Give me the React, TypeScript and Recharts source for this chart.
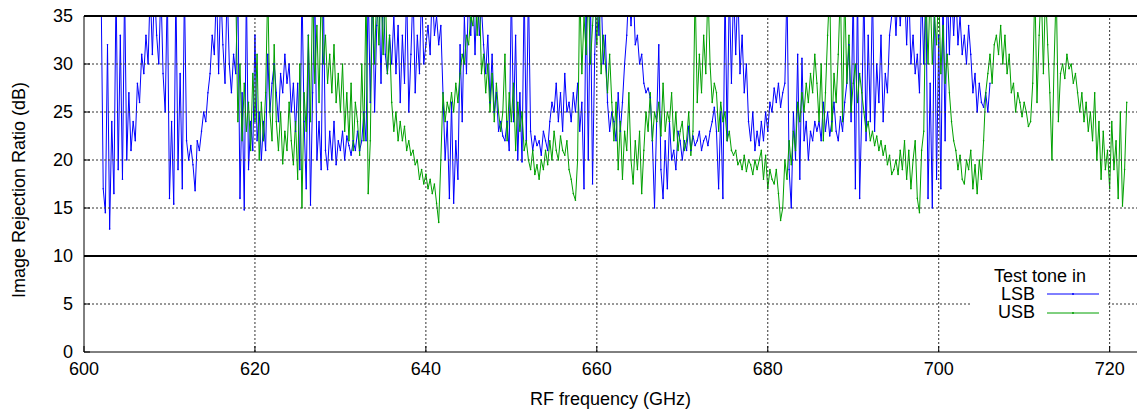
import { LineChart, Line, XAxis, YAxis, ReferenceLine } from "recharts";

// sweep step in GHz, both sidebands
const STEP = 0.25;
const LSB_START = 602;
const USB_START = 617.75;

// image rejection ratio (dB), test tone in LSB, 602 .. 706 GHz
const lsbValues = [
  38, 17, 14.5, 32, 12.8, 24, 16.5, 38, 19, 33, 18, 38, 20, 27, 21, 24,
  22, 28, 26, 31, 29, 33, 30, 38, 31, 38, 33, 30, 38, 29, 25, 38,
  16, 24, 15.4, 38, 19, 29, 17, 38, 22, 20, 21.5, 19.5, 16.8, 22, 21, 23,
  25, 24, 27, 29, 33, 31, 38, 29, 38, 32, 28, 38, 30, 27, 31, 29,
  38, 16, 27, 14.8, 38, 19, 24, 21, 33, 22, 25, 20, 24, 21, 31, 25,
  28, 30, 27, 24, 29, 27, 31, 28, 30, 25, 28, 23, 28, 19, 38, 24,
  17, 33, 15.3, 27, 38, 20, 24, 19, 38, 21, 19, 23, 20, 24, 19.5, 22,
  21, 23, 20, 22.5, 21.5, 20.5, 22, 21, 23, 21, 22, 25, 22, 38, 26, 38,
  25, 34, 38, 28, 38, 31, 29, 33, 30, 35, 29, 34, 26, 33, 28, 38,
  25, 31, 38, 27, 33, 29, 38, 30, 32, 34, 31, 38, 33, 35, 32, 34,
  27, 20, 24, 16, 26, 15.5, 22, 18, 32, 24, 35, 29, 38, 33, 38, 31,
  38, 33, 36, 32, 29, 33, 26, 31, 25, 27, 23, 24, 22.5, 22, 24, 21,
  38, 24, 33, 20, 27, 19.8, 38, 22, 38, 23, 21, 22.5, 21.5, 22, 20.5, 23,
  22, 21, 24, 26, 25, 28, 24, 27, 23, 29, 25, 26, 24, 27, 25, 28,
  23, 26, 17, 38, 20, 38, 17.5, 31, 38, 33, 38, 30, 33, 26, 23, 25,
  24, 22, 27, 23, 26, 30, 33, 38, 34, 38, 32, 33, 30, 31, 28, 27,
  27.5, 26.5, 22, 15, 24, 32, 19, 16, 22, 17, 24, 20, 21, 19, 23, 22,
  20, 22, 21, 23.5, 21, 22.5, 21.5, 22, 23, 21, 22, 22.5, 21.5, 23, 24, 25.5,
  23, 17, 25, 16, 38, 22, 38, 28, 38, 31, 38, 29, 33, 27, 30, 24,
  22, 25, 21, 23, 21.5, 24, 22, 25, 23, 26, 25, 27.5, 26, 28, 25.5, 27,
  28, 38, 19, 15, 25, 20, 31, 18, 30.6, 22, 24, 20, 23, 22, 24, 23,
  24, 22, 26, 23, 25, 22.5, 24, 26, 23, 22, 24.5, 23, 26, 28, 32, 24,
  38, 17, 38, 16, 25, 38, 22, 33, 24, 38, 23, 30, 26, 33, 24, 29,
  27, 33, 35, 38, 33, 38, 34, 38, 38, 32, 38, 30, 33, 29, 31, 27,
  38, 30, 38, 16, 28, 15, 38, 18, 33, 17, 38, 22, 38, 31, 38, 33,
  38, 32, 35, 31, 33, 30, 34, 31, 27, 29, 25, 28, 26, 25.5, 27, 25,
  28,
];

// image rejection ratio (dB), test tone in USB, 617.75 .. 722 GHz
const usbValues = [
  38,
  24, 30, 22, 28, 23, 26, 21, 29, 24, 31, 20, 26, 22, 27, 38, 25,
  22, 32, 24, 21, 25, 19.6, 23, 21, 26, 22, 19.5, 24, 18, 30, 15, 27,
  23, 33, 24, 38, 28, 34, 26, 38, 30, 33, 28, 31, 27, 32, 26, 29,
  25, 30, 23, 27, 22, 28, 21, 26, 24, 20.5, 30, 22, 38, 16.5, 22, 38,
  30, 38, 32, 38, 31, 38, 29, 33, 26, 23, 25, 22, 24, 22, 23.5, 21,
  22, 20.5, 21, 19.5, 20, 18, 19, 17.5, 18.5, 17, 18, 16.5, 17.5, 15.5, 13.5, 20,
  27, 24, 26, 25, 27, 25, 28, 26, 29, 31, 30, 33, 32, 35, 34, 38,
  33, 38, 29, 31, 27, 30, 25, 29, 24, 28, 25, 23, 25, 31, 22, 27,
  24, 28, 21, 26, 23, 25, 21, 22, 20, 19, 21, 18.5, 19.5, 18, 20, 19,
  21, 19.5, 22, 20, 23, 21, 20, 22.5, 21, 20.5, 22, 19, 18, 16.5, 15.8, 20,
  38, 29, 35, 31, 38, 30, 34, 38, 32, 38, 29, 33, 30, 27, 31, 26,
  22, 26, 19, 24, 18, 23, 21, 27, 20, 17.5, 22, 19, 23, 16.5, 21, 25,
  23, 27, 22, 25, 24, 26, 22.5, 28, 23, 25, 24, 27, 22, 25, 21, 23,
  24, 21, 22, 25, 20.5, 23, 38, 26, 31, 27, 33, 29, 38, 30, 26, 28,
  27, 23, 26, 24, 25, 22, 23, 21, 20.5, 21, 19.5, 20, 19, 20.5, 18.8, 20,
  19.5, 18.5, 20, 19, 20, 21, 18, 20.5, 17, 19, 18, 17.5, 19, 16.5, 13.7, 15,
  20, 18, 22, 19.5, 23, 21, 26, 24, 27, 25, 28, 26, 29, 27, 31, 28,
  24, 30, 22, 27, 33, 38, 23, 29, 26, 31, 38, 24, 38, 28, 33, 25,
  28, 30, 26, 29, 27, 25, 23, 24, 22, 23, 21.5, 22.5, 21, 22, 20.5, 21.5,
  19.5, 20.5, 18.5, 19, 20, 18.5, 21, 19, 22, 18, 21, 17, 20, 22, 16, 14.5,
  21, 23, 38, 30, 38, 30, 35, 32, 38, 29, 34, 28, 31, 27, 24, 22,
  21, 19, 20.5, 18, 17.5, 20, 19, 21, 17, 19.5, 16.5, 20, 18, 22, 27, 29,
  31, 28, 32, 33, 31, 34, 30, 33, 29, 31, 27, 28, 25, 27, 26, 24.5,
  26, 25, 23.5, 24, 28, 38, 26, 33, 38, 29, 38, 32, 27, 20, 30, 38,
  24, 29, 30, 28.5, 31, 29.5, 30, 28, 29, 27, 25, 27, 24, 26, 23, 25,
  22, 27, 20, 24, 18, 23, 19, 21, 17, 24, 19, 22, 16, 25, 15.2, 19,
  26,
];

const freqTicks = [600, 620, 640, 660, 680, 700, 720];
const dbTicks = [0, 5, 10, 15, 20, 25, 30, 35];
const gridFreqs = [620, 640, 660, 680, 700, 720];
const gridDbs = [5, 15, 20, 25, 30];

const LSB_COLOR = "#0000ff";
const USB_COLOR = "#00a000";
const FONT = "'Liberation Sans', Arial, Helvetica, sans-serif";

const toPoints = (start: number, values: number[]) =>
  values.map((v, i) => ({ f: start + i * STEP, v }));

const lsbData = toPoints(LSB_START, lsbValues);
const usbData = toPoints(USB_START, usbValues);

function YTitle() {
  return (
    <text
      x={19}
      y={190}
      transform="rotate(-90 19 190)"
      textAnchor="middle"
      dominantBaseline="central"
      fontSize={18}
      fill="#000"
    >
      Image Rejection Ratio (dB)
    </text>
  );
}

function LegendBox() {
  return (
    <svg
      width={137}
      height={62}
      style={{ position: "absolute", left: 970, top: 262, fontFamily: FONT }}
    >
      <rect width={137} height={62} fill="#fff" />
      <text x={70} y={20} textAnchor="middle" fontSize={18} fill="#000">
        Test tone in
      </text>
      <text x={65} y={38} textAnchor="end" fontSize={18} fill="#000">
        LSB
      </text>
      <line x1={77} x2={129} y1={32} y2={32} stroke={LSB_COLOR} strokeWidth={1} />
      <circle cx={103} cy={32} r={1} fill={LSB_COLOR} />
      <text x={65} y={56} textAnchor="end" fontSize={18} fill="#000">
        USB
      </text>
      <line x1={77} x2={129} y1={51} y2={51} stroke={USB_COLOR} strokeWidth={1} />
      <circle cx={103} cy={51} r={1} fill={USB_COLOR} />
    </svg>
  );
}

export default function App() {
  return (
    <div style={{ position: "absolute", left: 0, top: 0, width: 1138, height: 412, background: "#fff", fontFamily: FONT }}>
      <LineChart width={1138} height={412} margin={{ top: 16, right: 1, left: 0, bottom: 0 }}>
        <XAxis
          dataKey="f"
          type="number"
          domain={[600, 723.2]}
          ticks={freqTicks}
          allowDataOverflow
          height={60}
          tickSize={-6}
          tickMargin={16}
          axisLine={{ stroke: "#000" }}
          tickLine={{ stroke: "#000" }}
          tick={{ fill: "#000", fontSize: 18 }}
          label={{ value: "RF frequency (GHz)", position: "insideBottom", offset: 7, fill: "#000", fontSize: 18 }}
        />
        <YAxis
          type="number"
          domain={[0, 35]}
          ticks={dbTicks}
          allowDataOverflow
          width={84}
          tickSize={-6}
          tickMargin={17}
          axisLine={{ stroke: "#000" }}
          tickLine={{ stroke: "#000" }}
          tick={{ fill: "#000", fontSize: 18 }}
          label={<YTitle />}
        />
        <Line
          data={lsbData}
          dataKey="v"
          type="linear"
          stroke={LSB_COLOR}
          strokeWidth={1}
          dot={{ r: 0.8, strokeWidth: 0, fill: LSB_COLOR }}
          isAnimationActive={false}
        />
        <Line
          data={usbData}
          dataKey="v"
          type="linear"
          stroke={USB_COLOR}
          strokeWidth={1}
          dot={{ r: 0.8, strokeWidth: 0, fill: USB_COLOR }}
          isAnimationActive={false}
        />
        {gridFreqs.map((f) => (
          <ReferenceLine key={`gx-${f}`} x={f} stroke="#333" strokeDasharray="2 2" strokeWidth={1} />
        ))}
        {gridDbs.map((d) => (
          <ReferenceLine key={`gy-${d}`} y={d} stroke="#333" strokeDasharray="2 2" strokeWidth={1} />
        ))}
        <ReferenceLine y={10} stroke="#000" strokeWidth={2} />
        <ReferenceLine y={35} stroke="#000" strokeWidth={2} />
      </LineChart>
      <LegendBox />
    </div>
  );
}
